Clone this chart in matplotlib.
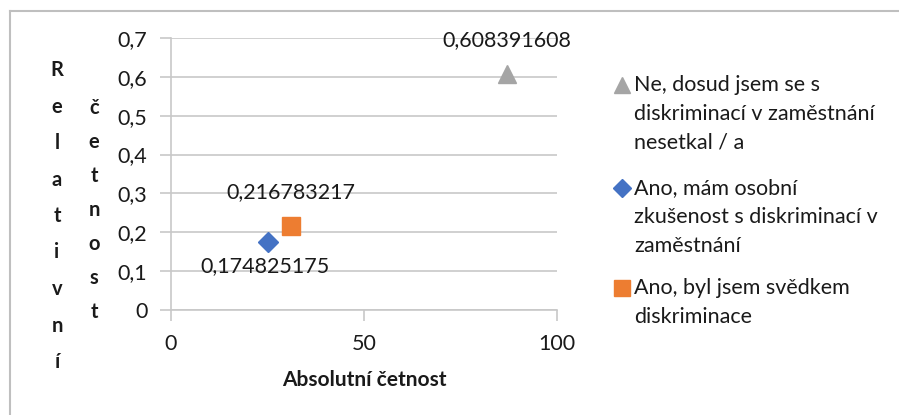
import matplotlib
matplotlib.use("Agg")
import matplotlib.pyplot as plt
from matplotlib.lines import Line2D
from matplotlib.ticker import FuncFormatter

plt.rcParams["font.family"] = ["Lato", "DejaVu Sans"]

# data
series = [
    "Ne, dosud jsem se s\ndiskriminací v zaměstnání\nnesetkal / a",
    "Ano, mám osobní\nzkušenost s diskriminací v\nzaměstnání",
    "Ano, byl jsem svědkem\ndiskriminace",
]
absolute = [87, 25, 31]
relative = [0.608391608, 0.174825175, 0.216783217]
value_labels = ["0,608391608", "0,174825175", "0,216783217"]
markers = ["^", "D", "s"]
sizes = [13, 10, 12.5]
colors = ["#A5A5A5", "#4472C4", "#ED7D31"]
label_offsets = [(0, 24), (-2, -17), (0, 24)]

W, H = 899, 415
fig = plt.figure(figsize=(W / 100, H / 100), dpi=100)


def fx(px):
    return px / W


def fy(py):
    return 1 - py / H


ax = fig.add_axes([fx(171), fy(310), 386 / W, 272 / H])

grid_c = "#c8c8c8"
txt_c = "#1a1a1a"

for xv, yv, m, ms, c, lab, off in zip(absolute, relative, markers, sizes, colors,
                                       value_labels, label_offsets):
    ax.plot([xv], [yv], marker=m, markersize=ms, color=c, linestyle="none", zorder=3)
    ax.annotate(lab, (xv, yv), xytext=off, textcoords="offset points",
                ha="center", va="center", fontsize=15.5, color=txt_c, zorder=4)

ax.set_xlim(0, 100)
ax.set_ylim(0, 0.7)
ax.set_xticks([0, 50, 100])
ax.set_yticks([0, 0.1, 0.2, 0.3, 0.4, 0.5, 0.6, 0.7])
ax.yaxis.set_major_formatter(FuncFormatter(lambda v, p: "0" if v == 0 else f"{v:.1f}".replace(".", ",")))
ax.grid(axis="y", color=grid_c, linewidth=1.2)
ax.set_axisbelow(True)
for s in ["top", "right"]:
    ax.spines[s].set_visible(False)
for s in ["left", "bottom"]:
    ax.spines[s].set_color(grid_c)
    ax.spines[s].set_linewidth(1.2)
ax.tick_params(axis="both", colors=grid_c, width=1.2, length=8, labelsize=15.5,
               labelcolor=txt_c)
ax.tick_params(axis="x", pad=9)
ax.tick_params(axis="y", pad=9)

ax.set_xlabel("Absolutní četnost", fontsize=15, fontweight="bold", color=txt_c, labelpad=12)

# stacked y label
col1 = "Relativní"
col2 = "četnost"
for i, ch in enumerate(col1):
    fig.text(fx(57), fy(70 + i * 36.5), ch, ha="center", va="center",
             fontsize=14.5, fontweight="bold", color=txt_c)
for i, ch in enumerate(col2):
    fig.text(fx(94), fy(108 + i * 34), ch, ha="center", va="center",
             fontsize=14.5, fontweight="bold", color=txt_c)

# legend
leg_y = [85, 188, 288]
for lab, m, ms, c, y in zip(series, markers, sizes, colors, leg_y):
    fig.add_artist(Line2D([fx(622)], [fy(y)], marker=m, markersize=ms * 0.9,
                          color=c, linestyle="none", transform=fig.transFigure))
    fig.text(fx(634), fy(y - 10), lab, ha="left", va="top", fontsize=15.5,
             color=txt_c, linespacing=1.56)

# chart border (left and top only visible)
fig.add_artist(Line2D([fx(10), fx(10)], [fy(11), 0], color="#bfbfbf", linewidth=1.5,
                      transform=fig.transFigure))
fig.add_artist(Line2D([fx(10), 1], [fy(11), fy(11)], color="#bfbfbf", linewidth=1.5,
                      transform=fig.transFigure))

fig.savefig("out.png", dpi=100)
